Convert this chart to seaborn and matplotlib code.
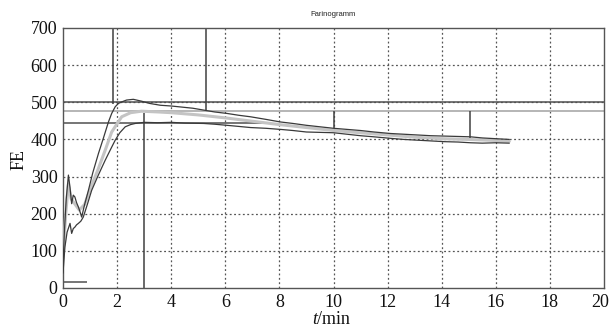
import pandas as pd
import seaborn as sns
import matplotlib
matplotlib.use("Agg")
import matplotlib.pyplot as plt
import matplotlib.transforms as mtransforms

# upper curve (dark)
t_upper = [0.0, 0.05, 0.12, 0.2, 0.26, 0.32, 0.38, 0.44, 0.5, 0.57, 0.63, 0.69,
           0.8, 0.94, 1.1, 1.31, 1.5, 1.68, 1.8, 1.93, 2.05, 2.17, 2.35, 2.6,
           2.9, 3.2, 3.6, 4.0, 4.4, 4.8, 5.2, 5.6, 6.06, 6.5, 6.93, 7.5, 8.04,
           8.5, 9.0, 9.5, 10.0, 10.5, 11.0, 11.5, 12.1, 12.6, 13.1, 13.6, 14.1,
           14.6, 15.07, 15.5, 16.0, 16.5]
fe_upper = [60, 150, 240, 304, 270, 227, 250, 245, 230, 218, 205, 191,
            225, 263, 310, 362, 405, 447, 470, 488, 497, 501, 506, 508,
            503, 497, 492, 490, 487, 484, 479, 474, 470, 465, 461, 454, 447,
            443, 438, 434, 430, 427, 424, 420, 416, 414, 412, 410, 409,
            408, 407, 404, 402, 400]

# lower curve (dark)
t_lower = [0.0, 0.07, 0.15, 0.26, 0.32, 0.38, 0.44, 0.5, 0.57, 0.66, 0.75, 0.9,
           1.06, 1.3, 1.56, 1.75, 1.93, 2.1, 2.3, 2.5, 2.67, 3.0, 3.5, 4.0,
           4.5, 5.2, 5.6, 6.06, 6.5, 6.93, 7.5, 8.04, 8.5, 9.0, 9.5, 10.0,
           10.5, 11.0, 11.5, 12.1, 12.6, 13.1, 13.6, 14.1, 14.6, 15.07, 15.5,
           16.0, 16.5]
fe_lower = [40, 110, 150, 174, 147, 160, 164, 170, 174, 180, 191, 225,
            263, 303, 344, 372, 398, 418, 434, 440, 443, 446, 445, 446,
            444, 443, 441, 438, 435, 432, 430, 427, 424, 420, 419, 418,
            414, 410, 407, 403, 400, 398, 396, 394, 393, 391, 390,
            391, 390]

# middle curve (light grey)
t_mid = [0.0, 0.1, 0.2, 0.3, 0.45, 0.6, 0.8, 1.0, 1.3, 1.56, 1.8, 2.17, 2.5,
         2.9, 3.5, 4.0, 5.0, 6.0, 7.0, 8.0, 9.0, 10.0, 11.0, 12.0, 13.0,
         14.0, 15.0, 16.0, 16.5]
fe_mid = [80, 200, 280, 240, 225, 210, 225, 265, 320, 371, 420, 461, 472,
          476, 474, 472, 466, 458, 449, 440, 432, 424, 418, 412, 406,
          402, 400, 397, 395]

# marker lines of the farinogram evaluation
h_dark_y = [500, 445, 16]
h_dark_x0 = [0, 0, 0]
h_dark_x1 = [20, 7.5, 0.88]
h_light_y = [476]
v_x = [1.83, 5.3, 3.0, 10.0, 15.05]
v_y0 = [495, 480, 0, 432, 405]
v_y1 = [700, 700, 472, 476, 476]

x_ticks = [0, 2, 4, 6, 8, 10, 12, 14, 16, 18, 20]
y_ticks = [0, 100, 200, 300, 400, 500, 600, 700]

sns.set_style("white")
plt.rcParams['font.family'] = ['Liberation Serif', 'DejaVu Serif']

fig = plt.figure(figsize=(6.1, 3.27), dpi=100)
ax = fig.add_axes([63/610, 1 - 288/327, 541/610, 260/327])

grid_col = '#555555'
for xv in x_ticks[1:-1]:
    ax.axvline(xv, color=grid_col, lw=0.9, ls=(0, (1.5, 2.0)), zorder=1)
for yv in y_ticks[1:-1]:
    ax.axhline(yv, color=grid_col, lw=0.9, ls=(0, (1.5, 2.0)), zorder=1)

ax.hlines(h_light_y, 0, 20, color='#b0b0b0', lw=1.3, zorder=2)
ax.hlines(h_dark_y, h_dark_x0, h_dark_x1, color='#505050', lw=1.1, zorder=2)
ax.vlines(v_x, v_y0, v_y1, color='#404040', lw=1.1, zorder=2)

df_mid = pd.DataFrame({'t': t_mid, 'FE': fe_mid})
df_up = pd.DataFrame({'t': t_upper, 'FE': fe_upper})
df_lo = pd.DataFrame({'t': t_lower, 'FE': fe_lower})
sns.lineplot(data=df_mid, x='t', y='FE', ax=ax, color='#c4c4c4', lw=2.2, zorder=3)
sns.lineplot(data=df_up, x='t', y='FE', ax=ax, color='#3a3a3a', lw=0.9, zorder=4)
sns.lineplot(data=df_lo, x='t', y='FE', ax=ax, color='#3a3a3a', lw=0.9, zorder=4)

ax.set_xlim(0, 20)
ax.set_ylim(0, 700)
ax.set_xticks(x_ticks)
ax.set_yticks(y_ticks)
ax.set_xlabel('')
ax.set_ylabel('')
ax.tick_params(labelsize=13, length=2, color='#777777', pad=2, labelcolor='#111111')
for s in ax.spines.values():
    s.set_color('#555555')
    s.set_linewidth(1.0)

# keep the last x tick label inside the canvas
last = ax.get_xticklabels()[-1]
last.set_transform(last.get_transform() +
                   mtransforms.ScaledTranslation(-4/100, 0, fig.dpi_scale_trans))

fig.text(333/610, 1 - 14/327, 'Farinogramm', ha='center', va='center',
         fontsize=5.5, family=['Liberation Sans', 'DejaVu Sans'], color='#222222')
fig.text(19/610, 1 - 160/327, 'FE', rotation=90, ha='center', va='center',
         fontsize=13, color='#111111')
fig.text(317/610, 1 - 319/327, 't', ha='right', va='center', style='italic',
         fontsize=13, color='#111111')
fig.text(317/610, 1 - 319/327, '/min', ha='left', va='center',
         fontsize=13, color='#111111')

fig.savefig('out.png', dpi=100)
